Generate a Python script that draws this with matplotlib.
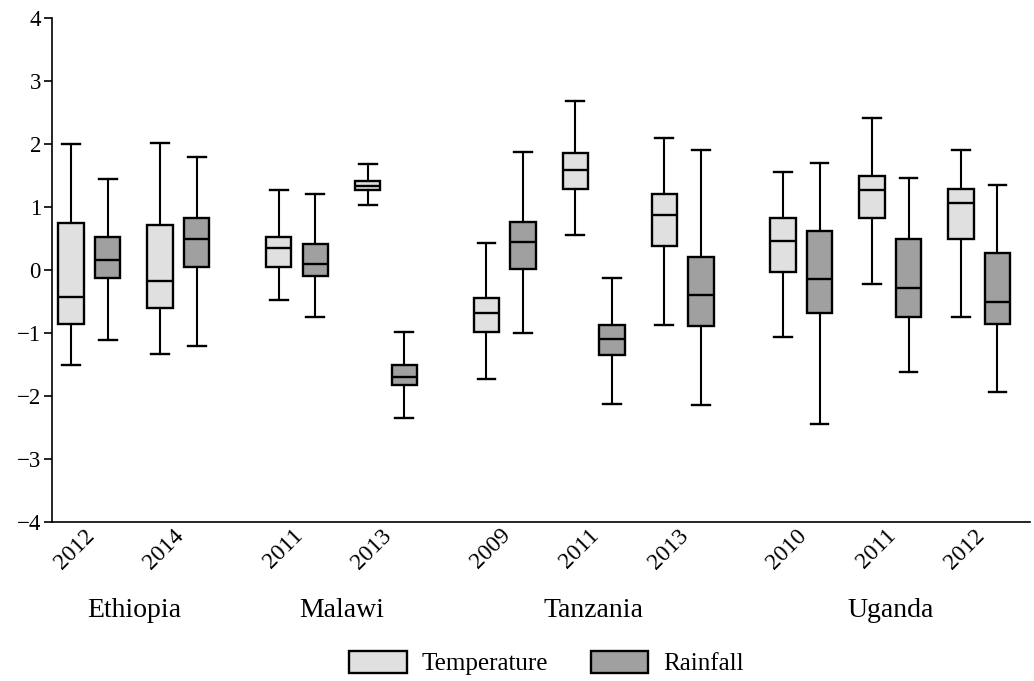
import numpy as np
import matplotlib
matplotlib.use("Agg")
import matplotlib.pyplot as plt
from matplotlib.patches import Patch
from matplotlib.transforms import blended_transform_factory, ScaledTranslation

plt.rcParams["font.family"] = ["Liberation Serif", "DejaVu Serif"]

countries = ["Ethiopia", "Malawi", "Tanzania", "Uganda"]
years = ["2012", "2014", "2011", "2013", "2009", "2011", "2013", "2010", "2011", "2012"]
group = [0, 0, 1, 1, 2, 2, 2, 3, 3, 3]

# whisker low, Q1, median, Q3, whisker high
temp_low = [-1.50, -1.34, -0.47, 1.03, -1.73, 0.55, -0.87, -1.06, -0.22, -0.75]
temp_q1 = [-0.86, -0.60, 0.05, 1.27, -0.99, 1.28, 0.38, -0.03, 0.82, 0.49]
temp_med = [-0.43, -0.17, 0.35, 1.33, -0.69, 1.59, 0.88, 0.46, 1.27, 1.06]
temp_q3 = [0.75, 0.72, 0.53, 1.42, -0.44, 1.85, 1.21, 0.82, 1.49, 1.28]
temp_high = [2.00, 2.01, 1.27, 1.68, 0.43, 2.68, 2.09, 1.55, 2.42, 1.91]

rain_low = [-1.11, -1.21, -0.75, -2.35, -1.00, -2.12, -2.14, -2.45, -1.62, -1.94]
rain_q1 = [-0.13, 0.04, -0.10, -1.82, 0.02, -1.35, -0.89, -0.68, -0.74, -0.86]
rain_med = [0.16, 0.50, 0.10, -1.70, 0.44, -1.10, -0.40, -0.14, -0.29, -0.51]
rain_q3 = [0.52, 0.82, 0.42, -1.51, 0.76, -0.88, 0.20, 0.62, 0.50, 0.27]
rain_high = [1.45, 1.80, 1.20, -0.98, 1.87, -0.13, 1.90, 1.70, 1.46, 1.35]

# x positions: one slot per year, extra gap between countries
pos = np.arange(len(years)) + np.array(group) / 3.0


def stats(low, q1, med, q3, high):
    return [dict(whislo=a, q1=b, med=c, q3=d, whishi=e, fliers=[])
            for a, b, c, d, e in zip(low, q1, med, q3, high)]


fig = plt.figure(figsize=(10.34, 6.81), dpi=100)
ax = fig.add_axes([0.0503, 0.2335, 0.9458, 0.740])

w = 0.285
for st, off, col in [(stats(temp_low, temp_q1, temp_med, temp_q3, temp_high), -0.205, "#e0e0e0"),
                     (stats(rain_low, rain_q1, rain_med, rain_q3, rain_high), 0.205, "#a0a0a0")]:
    ax.bxp(st, positions=pos + off, widths=w, capwidths=0.2, patch_artist=True, showfliers=False,
           boxprops=dict(facecolor=col, edgecolor="black", linewidth=1.7),
           medianprops=dict(color="black", linewidth=1.7),
           whiskerprops=dict(color="black", linewidth=1.5),
           capprops=dict(color="black", linewidth=1.7))

ax.set_xlim(-0.42, 10.57)
ax.set_ylim(-4, 4)
ax.set_yticks(range(-4, 5))
ax.set_xticks(pos)
ax.set_xticklabels(years, rotation=45, ha="right", rotation_mode="anchor")
ax.tick_params(axis="x", length=0, pad=5, labelsize=17)
ax.tick_params(axis="y", length=6, width=1.2, labelsize=16.5, direction="out", pad=2)
shift = ScaledTranslation(-0.05, 0.04, fig.dpi_scale_trans)
for lab in ax.get_xticklabels():
    lab.set_transform(lab.get_transform() + shift)
for s in ["top", "right"]:
    ax.spines[s].set_visible(False)
for s in ["left", "bottom"]:
    ax.spines[s].set_linewidth(1.2)

trans = blended_transform_factory(ax.transData, ax.transAxes)
g = np.array(group)
for i, c in enumerate(countries):
    ax.text(pos[g == i].mean(), -0.175, c, transform=trans, ha="center", va="center", fontsize=20)

handles = [Patch(facecolor="#e0e0e0", edgecolor="black", linewidth=1.7, label="Temperature"),
           Patch(facecolor="#a0a0a0", edgecolor="black", linewidth=1.7, label="Rainfall")]
fig.legend(handles=handles, loc="center", bbox_to_anchor=(0.5285, 0.0264), ncol=2, frameon=False,
           fontsize=18, handlelength=2.3, handleheight=1.0, columnspacing=1.7, handletextpad=0.6,
           borderpad=0.2)

fig.savefig("out.png", dpi=100)
